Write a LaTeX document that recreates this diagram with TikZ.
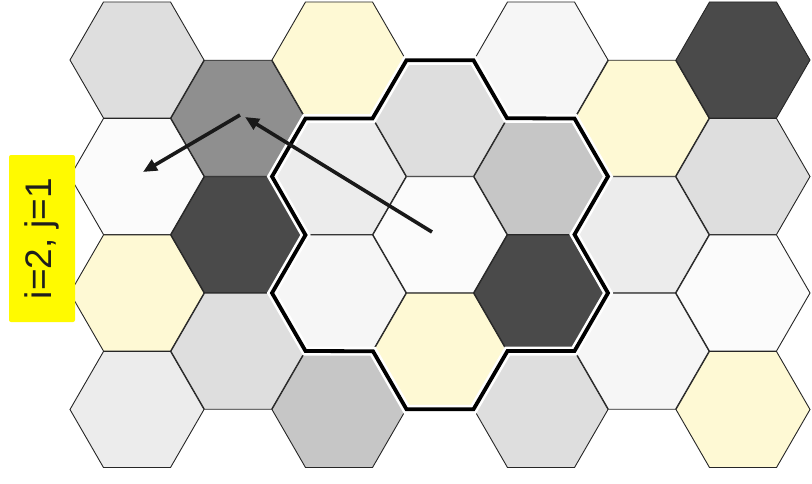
\documentclass[tikz,border=0pt]{standalone}
\usepackage{fontspec}
\setmainfont{Liberation Sans}
\usetikzlibrary{shapes.geometric,arrows.meta,calc}
\definecolor{hyel}{RGB}{254,249,212}
\definecolor{hwht}{RGB}{251,251,251}
\definecolor{hoff}{RGB}{246,246,246}
\definecolor{hlg}{RGB}{222,222,222}
\definecolor{hlt}{RGB}{236,236,236}
\definecolor{hmg}{RGB}{198,198,198}
\definecolor{hmd}{RGB}{143,143,143}
\definecolor{hdk}{RGB}{74,74,74}
\definecolor{lblyel}{RGB}{255,250,0}
\definecolor{lbltxt}{RGB}{30,30,30}
\begin{document}
\begin{tikzpicture}[x=1pt,y=-1pt,
  hex/.style={regular polygon, regular polygon sides=6, minimum size=134pt,
    inner sep=0pt, outer sep=0pt, draw=black!85, line width=0.9pt},
  outline/.style={preaction={draw=white, line width=9pt, line join=miter},
    draw=black, line width=3.8pt, line join=miter},
  arr/.style={draw=black!90, line width=3.6pt, -{Triangle[length=14pt,width=12pt]}},
  lbl/.style={fill=lblyel, text=lbltxt, rotate=90, minimum width=167pt,
    minimum height=66pt, inner sep=0pt, rounded corners=2pt,
    font=\fontsize{37pt}{40pt}\selectfont}]
\useasboundingbox (0,0) rectangle (812,483);
\fill[white] (0,0) rectangle (812,483);
% column 0
\node[hex, fill=hlg]  (h00) at (137,60) {};
\node[hex, fill=hwht] (h01) at (137,176.5) {};
\node[hex, fill=hyel] (h02) at (137,293) {};
\node[hex, fill=hlt]  (h03) at (137,409.5) {};
% column 1
\node[hex, fill=hmd]  (h10) at (238,118.25) {};
\node[hex, fill=hdk]  (h11) at (238,234.75) {};
\node[hex, fill=hlg]  (h12) at (238,351.25) {};
% column 2
\node[hex, fill=hyel] (h20) at (339,60) {};
\node[hex, fill=hlt]  (h21) at (339,176.5) {};
\node[hex, fill=hoff] (h22) at (339,293) {};
\node[hex, fill=hmg]  (h23) at (339,409.5) {};
% column 3
\node[hex, fill=hlg]  (h30) at (440,118.25) {};
\node[hex, fill=hwht] (h31) at (440,234.75) {};
\node[hex, fill=hyel] (h32) at (440,351.25) {};
% column 4
\node[hex, fill=hoff] (h40) at (541,60) {};
\node[hex, fill=hmg]  (h41) at (541,176.5) {};
\node[hex, fill=hdk]  (h42) at (541,293) {};
\node[hex, fill=hlg]  (h43) at (541,409.5) {};
% column 5
\node[hex, fill=hyel] (h50) at (642,118.25) {};
\node[hex, fill=hlt]  (h51) at (642,234.75) {};
\node[hex, fill=hoff] (h52) at (642,351.25) {};
% column 6
\node[hex, fill=hdk]  (h60) at (743,60) {};
\node[hex, fill=hlg]  (h61) at (743,176.5) {};
\node[hex, fill=hwht] (h62) at (743,293) {};
\node[hex, fill=hyel] (h63) at (743,409.5) {};
% thick outline of the cluster
\path[outline] ($(h30)+(-33.5,-58)$) -- ($(h30)+(33.5,-58)$) -- ($(h30)+(67,0)$)
  -- ($(h41)+(33.5,-58)$) -- ($(h41)+(67,0)$) -- ($(h41)+(33.5,58)$)
  -- ($(h42)+(67,0)$) -- ($(h42)+(33.5,58)$) -- ($(h42)+(-33.5,58)$)
  -- ($(h32)+(33.5,58)$) -- ($(h32)+(-33.5,58)$) -- ($(h32)+(-67,0)$)
  -- ($(h22)+(-33.5,58)$) -- ($(h22)+(-67,0)$) -- ($(h22)+(-33.5,-58)$)
  -- ($(h21)+(-67,0)$) -- ($(h21)+(-33.5,-58)$) -- ($(h21)+(33.5,-58)$) -- cycle;
% arrows
\coordinate (a1s) at (432,232);
\coordinate (a1e) at (245,117);
\coordinate (a2s) at (240,115);
\coordinate (a2e) at (143,172);
\draw[arr] (a1s) -- (a1e);
\draw[arr] (a2s) -- (a2e);
% label
\node[lbl] (label) at (42,238.5) {i=2, j=1};
\end{tikzpicture}
\end{document}
